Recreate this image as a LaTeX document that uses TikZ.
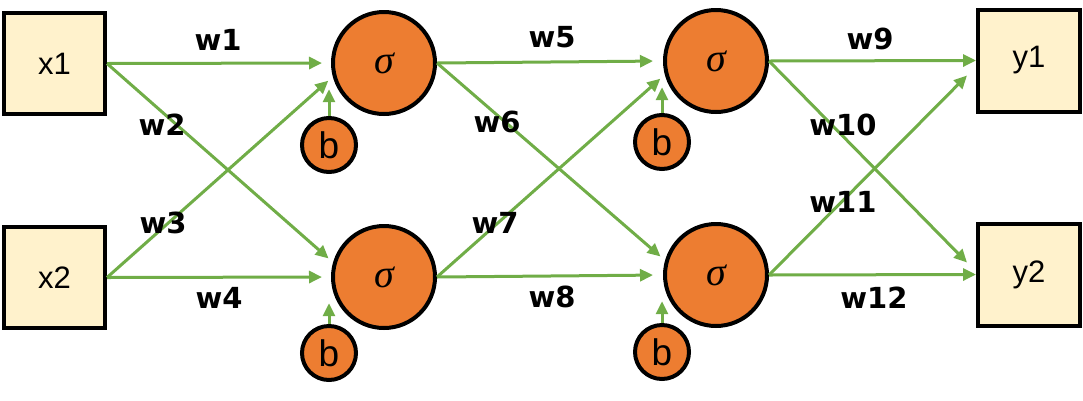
\documentclass[tikz,border=0pt]{standalone}
\usepackage{fontspec}
\setmainfont{Liberation Sans}
\newfontfamily\sigfont{Liberation Serif}
\newfontfamily\labfont{DejaVu Sans}
\usetikzlibrary{arrows.meta,calc}
\definecolor{arrgreen}{HTML}{70AD47}
\definecolor{neuron}{HTML}{ED7D31}
\definecolor{boxfill}{HTML}{FFF2CC}
\tikzset{
  iobox/.style={draw=black,line width=4pt,fill=boxfill,minimum size=101pt,inner sep=0pt,
    font=\fontsize{31}{36}\selectfont},
  neur/.style={circle,draw=black,line width=4pt,fill=neuron,minimum size=102pt,inner sep=0pt,
    font=\sigfont\itshape\fontsize{40}{40}\selectfont},
  bias/.style={circle,draw=black,line width=4pt,fill=neuron,minimum size=54pt,inner sep=0pt,
    font=\fontsize{37}{40}\selectfont},
  conn/.style={draw=arrgreen,line width=3pt,-{Triangle[length=13pt,width=12pt]}},
  wlab/.style={anchor=base,inner sep=0pt,font=\labfont\bfseries\fontsize{29}{34}\selectfont}
}
\begin{document}
\begin{tikzpicture}[x=1pt,y=-1pt]
\useasboundingbox (0,0) rectangle (1083,400);
% input boxes
\node[iobox] (x1) at (54.5,63.5) {x1};
\node[iobox] (x2) at (54.5,277.5) {x2};
% hidden layer 1
\node[neur] (h1) at (384,63) {σ};
\node[neur] (h2) at (384,277) {σ};
\node[bias] (b1) at (329,145) {b};
\node[bias] (b2) at (329,353) {b};
% hidden layer 2
\node[neur] (g1) at (716,61) {σ};
\node[neur] (g2) at (716,275) {σ};
\node[bias] (c1) at (662,142) {b};
\node[bias] (c2) at (662,352) {b};
% outputs
\node[iobox,minimum size=102pt] (y1) at (1029,60.5) {y1};
\node[iobox,minimum size=102pt] (y2) at (1029,274.5) {y2};
% connectors layer 1
\draw[conn,shorten >=9pt] (x1.east) -- (h1.west);
\draw[conn,shorten >=6pt] (x1.east) -- (h2.164);
\draw[conn,shorten >=6pt] (x2.east) -- (h1.195);
\draw[conn,shorten >=9pt] (x2.east) -- (h2.west);
\draw[conn,shorten >=3pt] (b1.north) -- (b1.north |- h1.206);
\draw[conn,shorten >=3pt] (b2.north) -- (b2.north |- h2.206);
% connectors layer 2
\draw[conn,shorten >=10pt] (h1.east) -- (g1.west);
\draw[conn,shorten >=6pt] (h1.east) -- (g2.164);
\draw[conn,shorten >=6pt] (h2.east) -- (g1.195);
\draw[conn,shorten >=10pt] (h2.east) -- (g2.west);
\draw[conn,shorten >=3pt] (c1.north) -- (c1.north |- g1.206);
\draw[conn,shorten >=3pt] (c2.north) -- (c2.north |- g2.206);
% connectors layer 3
\draw[conn] (g1.east) -- (y1.west);
\draw[conn] (g1.east) -- ($(y2.west)+(-9,-12)$);
\draw[conn] (g2.east) -- ($(y1.west)+(-9,15)$);
\draw[conn] (g2.east) -- (y2.west);
% weight labels
\node[wlab] (lw1) at (218,50) {w1};
\node[wlab] (lw2) at (162,135) {w2};
\node[wlab] (lw3) at (163,233) {w3};
\node[wlab] (lw4) at (219,308) {w4};
\node[wlab] (lw5) at (552,47) {w5};
\node[wlab] (lw6) at (497,132) {w6};
\node[wlab] (lw7) at (495,233) {w7};
\node[wlab] (lw8) at (552,307) {w8};
\node[wlab] (lw9) at (870,49) {w9};
\node[wlab] (lw10) at (843,135) {w10};
\node[wlab] (lw11) at (843,212) {w11};
\node[wlab] (lw12) at (874,308) {w12};
\end{tikzpicture}
\end{document}
